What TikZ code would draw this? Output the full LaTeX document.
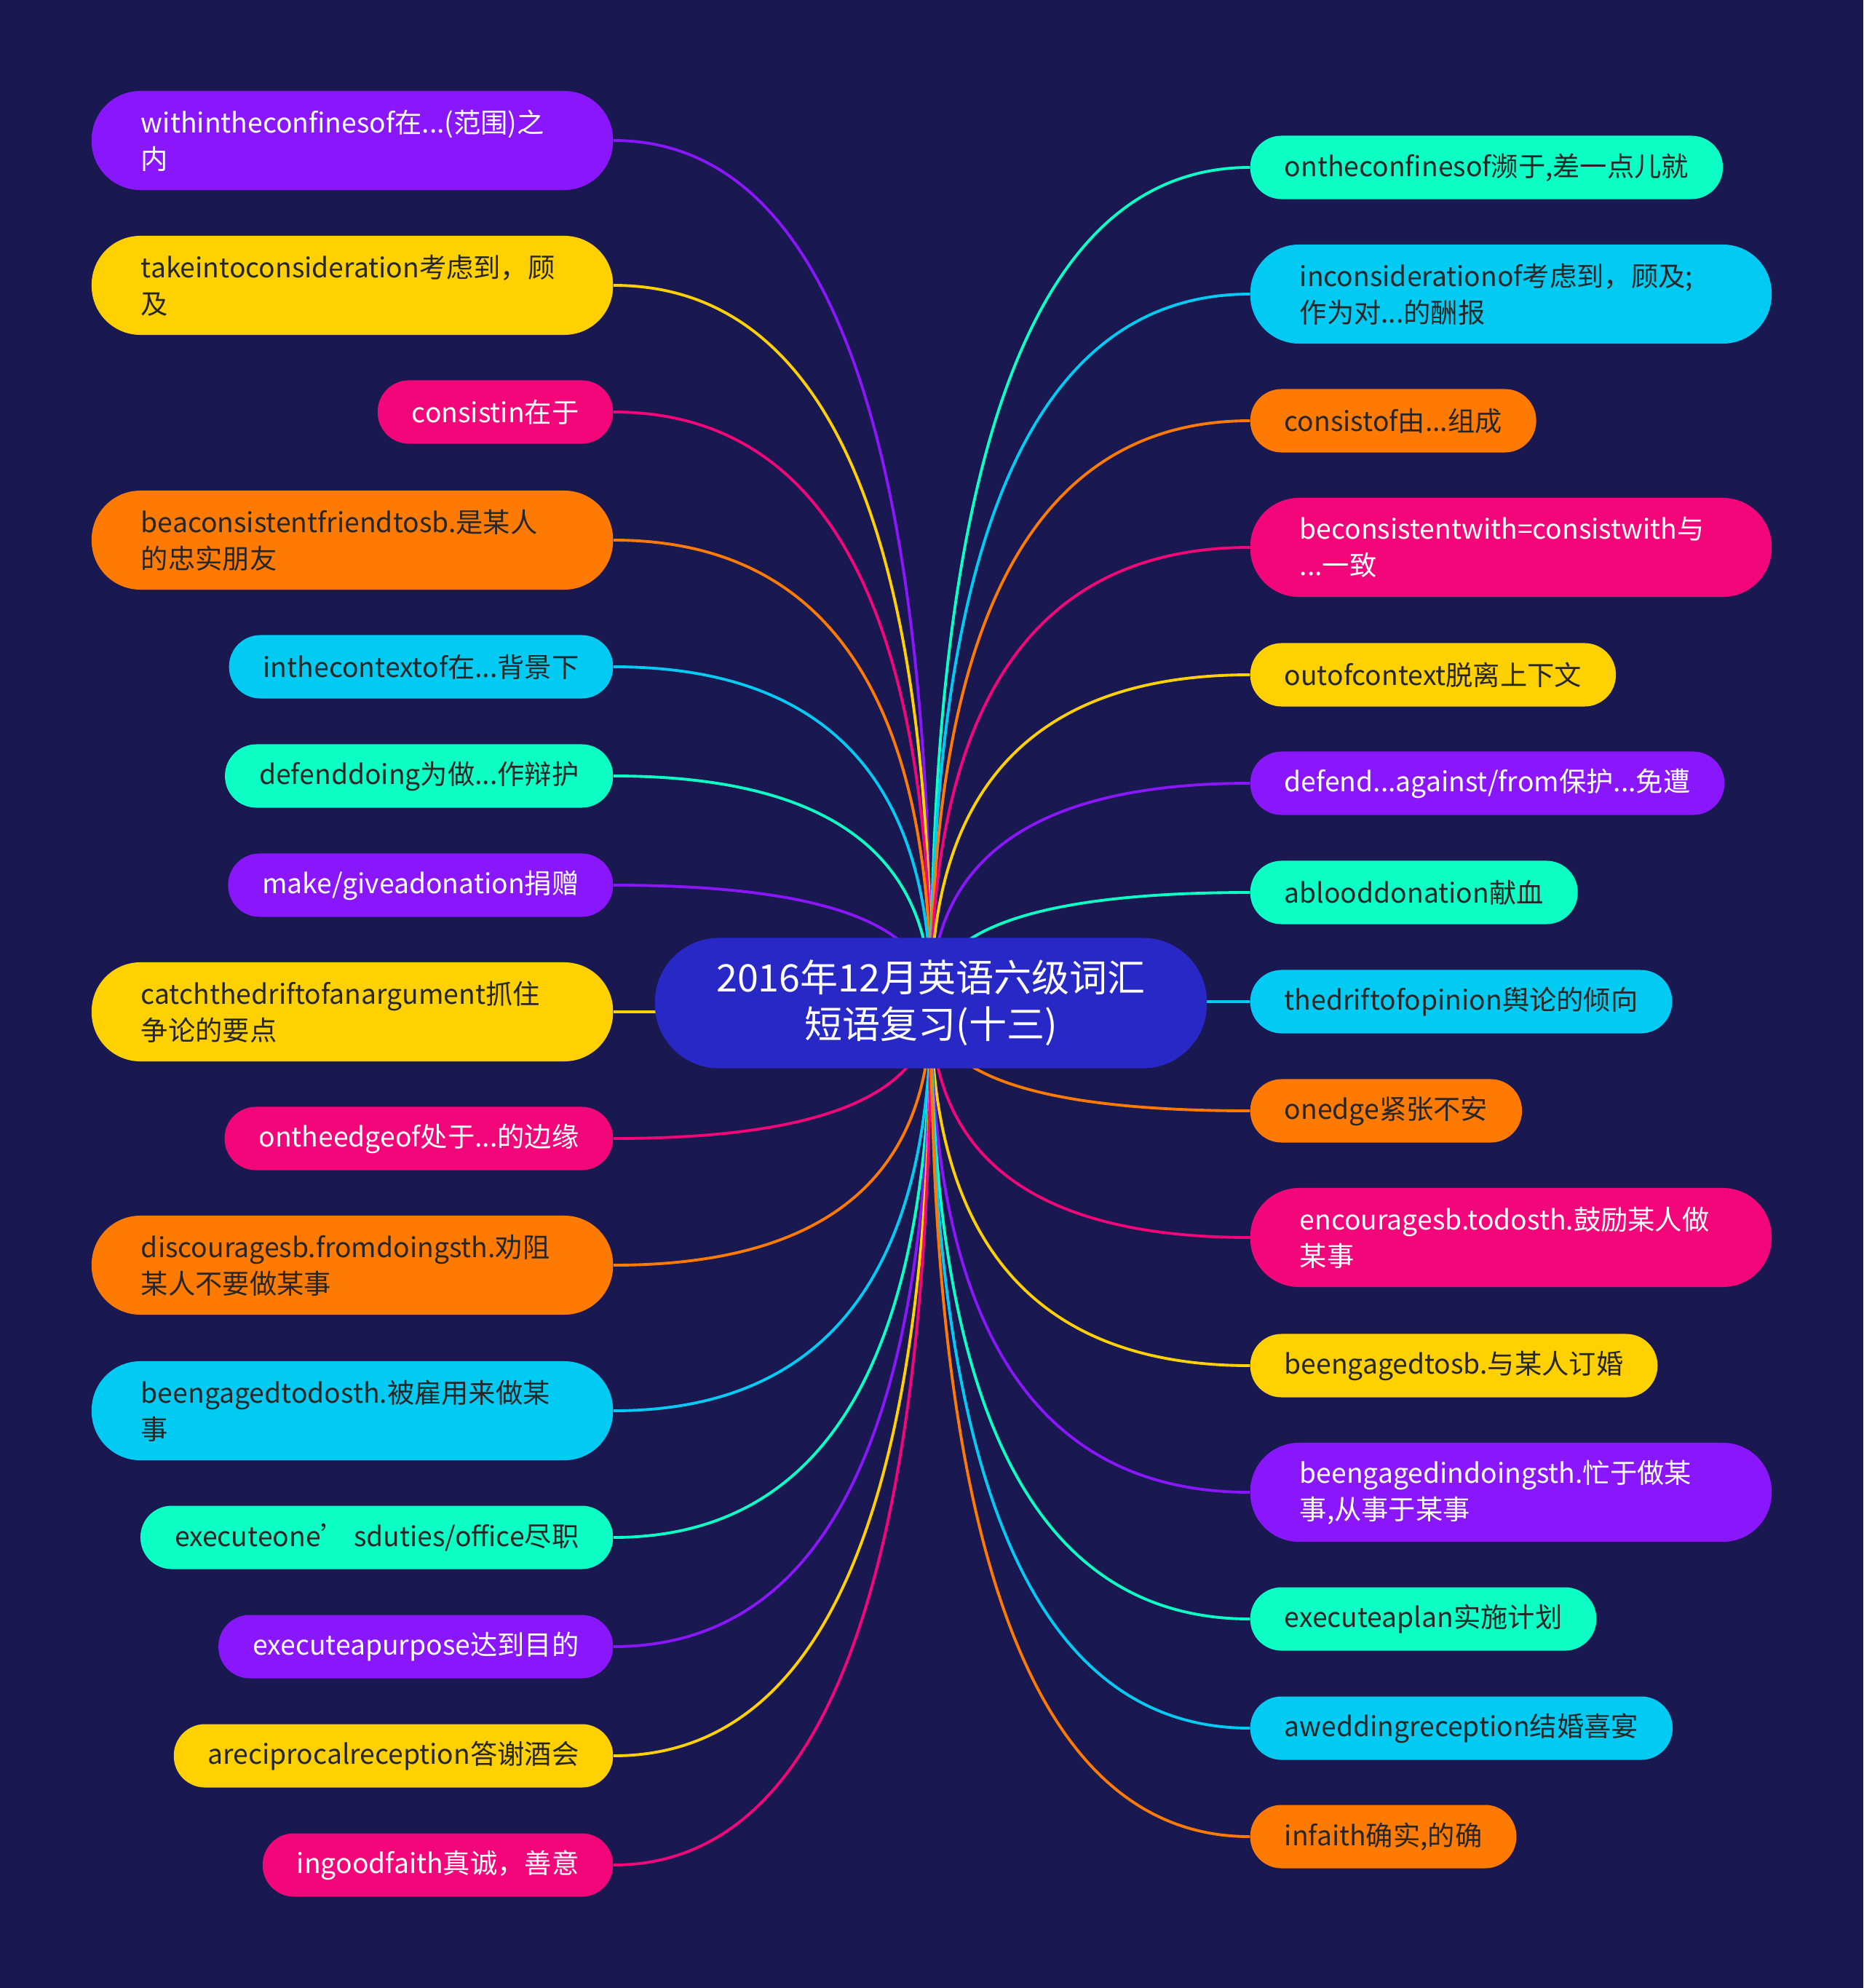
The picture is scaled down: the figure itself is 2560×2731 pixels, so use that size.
\documentclass[tikz,border=0pt]{standalone}
\usepackage{fontspec}
\setmainfont{Noto Sans CJK SC}
\usepackage{tikz}
\usetikzlibrary{calc}
\definecolor{mapNight}{HTML}{1A1850}
\definecolor{mapRoot}{HTML}{2828C6}
\definecolor{mapPurple}{HTML}{8A16FB}
\definecolor{mapYellow}{HTML}{FFD100}
\definecolor{mapPink}{HTML}{F2067A}
\definecolor{mapOrange}{HTML}{FF7A00}
\definecolor{mapCyan}{HTML}{02CBF3}
\definecolor{mapMint}{HTML}{0CFFC5}
\definecolor{mapInk}{HTML}{262626}
\pgfdeclarelayer{map-back}
\pgfdeclarelayer{map-links}
\pgfsetlayers{map-back,map-links,main}
\tikzset{
  map-root/.style={fill=mapRoot, text=white, rounded corners=0.88cm, minimum width=7.58cm,
    minimum height=1.79cm, align=center, font=\fontsize{14.8}{18.2}\selectfont},
  map-leaf/.style={rounded corners=0.43cm, minimum height=0.87cm, inner xsep=0.47cm,
    font=\fontsize{10.6}{14.2}\selectfont},
  map-wide/.style={map-leaf, rounded corners=0.67cm, minimum height=1.36cm, text width=5.8cm,
    inner xsep=0.68cm, align=left},
  leaf-purple/.style={fill=mapPurple, text=white},
  leaf-yellow/.style={fill=mapYellow, text=mapInk},
  leaf-pink/.style={fill=mapPink, text=white},
  leaf-orange/.style={fill=mapOrange, text=mapInk},
  leaf-cyan/.style={fill=mapCyan, text=mapInk},
  leaf-mint/.style={fill=mapMint, text=mapInk},
  map-link/.style={line width=1.1pt}
}

\begin{document}
\begin{tikzpicture}[x=0.01cm, y=-0.01cm]
  \begin{pgfonlayer}{map-back}
    \fill[mapNight] (0,0) rectangle (2560,2731);
  \end{pgfonlayer}
  \node[map-root] (root) at (1279,1378) {2016年12月英语六级词汇\\短语复习(十三)};
  % left branch
  \node[map-wide, leaf-purple, anchor=east] (L1) at (843,193) {withintheconfinesof在...(范围)之\\内};
  \node[map-wide, leaf-yellow, anchor=east] (L2) at (843,392) {takeintoconsideration考虑到，顾\\及};
  \node[map-leaf, leaf-pink, anchor=east] (L3) at (843,566) {consistin在于};
  \node[map-wide, leaf-orange, anchor=east] (L4) at (843,742) {beaconsistentfriendtosb.是某人\\的忠实朋友};
  \node[map-leaf, leaf-cyan, anchor=east] (L5) at (843,916) {inthecontextof在...背景下};
  \node[map-leaf, leaf-mint, anchor=east] (L6) at (843,1066) {defenddoing为做...作辩护};
  \node[map-leaf, leaf-purple, anchor=east] (L7) at (843,1216) {make/giveadonation捐赠};
  \node[map-wide, leaf-yellow, anchor=east] (L8) at (843,1390) {catchthedriftofanargument抓住\\争论的要点};
  \node[map-leaf, leaf-pink, anchor=east] (L9) at (843,1564) {ontheedgeof处于...的边缘};
  \node[map-wide, leaf-orange, anchor=east] (L10) at (843,1738) {discouragesb.fromdoingsth.劝阻\\某人不要做某事};
  \node[map-wide, leaf-cyan, anchor=east] (L11) at (843,1938) {beengagedtodosth.被雇用来做某\\事};
  \node[map-leaf, leaf-mint, anchor=east] (L12) at (843,2112) {executeone’ sduties/office尽职};
  \node[map-leaf, leaf-purple, anchor=east] (L13) at (843,2262) {executeapurpose达到目的};
  \node[map-leaf, leaf-yellow, anchor=east] (L14) at (843,2412) {areciprocalreception答谢酒会};
  \node[map-leaf, leaf-pink, anchor=east] (L15) at (843,2562) {ingoodfaith真诚，善意};
  % right branch
  \node[map-leaf, leaf-mint, anchor=west] (R1) at (1717,230) {ontheconfinesof濒于,差一点儿就};
  \node[map-wide, leaf-cyan, anchor=west] (R2) at (1717,404) {inconsiderationof考虑到，顾及;\\作为对...的酬报};
  \node[map-leaf, leaf-orange, anchor=west] (R3) at (1717,578) {consistof由...组成};
  \node[map-wide, leaf-pink, anchor=west] (R4) at (1717,752) {beconsistentwith=consistwith与\\...一致};
  \node[map-leaf, leaf-yellow, anchor=west] (R5) at (1717,927) {outofcontext脱离上下文};
  \node[map-leaf, leaf-purple, anchor=west] (R6) at (1717,1076) {defend...against/from保护...免遭};
  \node[map-leaf, leaf-mint, anchor=west] (R7) at (1717,1226) {ablooddonation献血};
  \node[map-leaf, leaf-cyan, anchor=west] (R8) at (1717,1376) {thedriftofopinion舆论的倾向};
  \node[map-leaf, leaf-orange, anchor=west] (R9) at (1717,1526) {onedge紧张不安};
  \node[map-wide, leaf-pink, anchor=west] (R10) at (1717,1700) {encouragesb.todosth.鼓励某人做\\某事};
  \node[map-leaf, leaf-yellow, anchor=west] (R11) at (1717,1876) {beengagedtosb.与某人订婚};
  \node[map-wide, leaf-purple, anchor=west] (R12) at (1717,2050) {beengagedindoingsth.忙于做某\\事,从事于某事};
  \node[map-leaf, leaf-mint, anchor=west] (R13) at (1717,2224) {executeaplan实施计划};
  \node[map-leaf, leaf-cyan, anchor=west] (R14) at (1717,2374) {aweddingreception结婚喜宴};
  \node[map-leaf, leaf-orange, anchor=west] (R15) at (1717,2523) {infaith确实,的确};
  % curved links, drawn under the nodes
  \begin{pgfonlayer}{map-links}
    \foreach \leaf/\tint in {L1/mapPurple, L2/mapYellow, L3/mapPink, L4/mapOrange, L5/mapCyan,
        L6/mapMint, L7/mapPurple, L8/mapYellow, L9/mapPink, L10/mapOrange, L11/mapCyan,
        L12/mapMint, L13/mapPurple, L14/mapYellow, L15/mapPink} {
      \coordinate (bend) at (root.center |- \leaf.east);
      \draw[map-link, draw=\tint] (\leaf.east) .. controls ($(\leaf.east)!2/3!(bend)$)
        and ($(root.center)!2/3!(bend)$) .. (root.center);
    }
    \foreach \leaf/\tint in {R1/mapMint, R2/mapCyan, R3/mapOrange, R4/mapPink, R5/mapYellow,
        R6/mapPurple, R7/mapMint, R8/mapCyan, R9/mapOrange, R10/mapPink, R11/mapYellow,
        R12/mapPurple, R13/mapMint, R14/mapCyan, R15/mapOrange} {
      \coordinate (bend) at (root.center |- \leaf.west);
      \draw[map-link, draw=\tint] (\leaf.west) .. controls ($(\leaf.west)!2/3!(bend)$)
        and ($(root.center)!2/3!(bend)$) .. (root.center);
    }
  \end{pgfonlayer}
\end{tikzpicture}
\end{document}
